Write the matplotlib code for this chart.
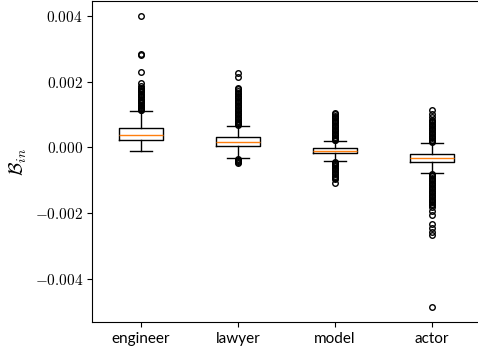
import matplotlib
matplotlib.use('Agg')
import matplotlib.pyplot as plt
from matplotlib.ticker import FuncFormatter

plt.rcParams['mathtext.fontset'] = 'cm'

# occupations on the x axis
categories = ['engineer', 'lawyer', 'model', 'actor']

# box statistics
q1 = [0.00023, 0.000046, -0.00018, -0.00044]
med = [0.00039, 0.00016, -0.00010, -0.00033]
q3 = [0.000605, 0.00031, -0.000025, -0.00021]
whis_lo = [-0.00010, -0.000314, -0.00041, -0.00077]
whis_hi = [0.00112, 0.000666, 0.000207, 0.000147]

# outliers (dense runs are where the circles merge into a black column)
fliers_engineer = [0.00402, 0.00285, 0.00283, 0.00231, 0.00196, 0.00188,
                   0.00182, 0.00179, 0.00175, 0.00171, 0.00168, 0.00164,
                   0.00160, 0.00156, 0.00153, 0.00149, 0.00145, 0.00141,
                   0.00138, 0.00134, 0.00130, 0.00127, 0.00123, 0.00120,
                   0.00117, 0.00115, 0.00113]
fliers_lawyer = [0.00227, 0.00214, 0.00181, 0.00177, 0.00172, 0.00167,
                 0.00163, 0.00158, 0.00154, 0.00150, 0.00146, 0.00142,
                 0.00138, 0.00134, 0.00130, 0.00126, 0.00122, 0.00118,
                 0.00114, 0.00110, 0.00106, 0.00102, 0.00098, 0.00094,
                 0.00090, 0.00086, 0.00082, 0.00078, 0.00075, 0.00072,
                 0.00069, -0.00035, -0.00038, -0.00041, -0.00045, -0.00049]
fliers_model = [0.00104, 0.00101, 0.00097, 0.00093, 0.00089, 0.00085,
                0.00081, 0.00077, 0.00073, 0.00069, 0.00065, 0.00061,
                0.00057, 0.00053, 0.00049, 0.00045, 0.00041, 0.00037,
                0.00033, 0.00030, 0.00027, 0.00024, 0.00022,
                -0.00044, -0.00047, -0.00050, -0.00054, -0.00058, -0.00062,
                -0.00066, -0.00070, -0.00074, -0.00078, -0.00082, -0.00086,
                -0.00089, -0.00092, -0.00096, -0.00109]
fliers_actor = [0.00114, 0.00102, 0.00092, 0.00084, 0.00080, 0.00076,
                0.00072, 0.00068, 0.00064, 0.00060, 0.00056, 0.00052,
                0.00048, 0.00044, 0.00040, 0.00036, 0.00032, 0.00028,
                0.00024, 0.00020, 0.00017,
                -0.00080, -0.00084, -0.00088, -0.00092, -0.00096, -0.00100,
                -0.00104, -0.00108, -0.00112, -0.00116, -0.00120, -0.00124,
                -0.00128, -0.00132, -0.00136, -0.00140, -0.00144, -0.00148,
                -0.00152, -0.00156, -0.00160, -0.00164, -0.00168, -0.00172,
                -0.00176, -0.00181, -0.00193, -0.00205, -0.00235, -0.00247,
                -0.00257, -0.00267, -0.00488]
fliers = [fliers_engineer, fliers_lawyer, fliers_model, fliers_actor]

stats = []
for i, name in enumerate(categories):
    stats.append({'label': name, 'q1': q1[i], 'med': med[i], 'q3': q3[i],
                  'whislo': whis_lo[i], 'whishi': whis_hi[i],
                  'fliers': fliers[i]})

fig = plt.figure(figsize=(4.78, 3.54), dpi=100)
# the original figure is cut off on the right, so the axes run past the edge
ax = fig.add_axes([0.1935, 0.0904, 0.8117, 0.9068])

ax.bxp(stats, widths=0.45,
       boxprops=dict(color='black', linewidth=1.0),
       whiskerprops=dict(color='black', linewidth=1.0),
       capprops=dict(color='black', linewidth=1.0),
       medianprops=dict(color='#ff7f0e', linewidth=1.0),
       flierprops=dict(marker='o', markerfacecolor='none',
                       markeredgecolor='black', markersize=4,
                       markeredgewidth=1.0))

ax.set_xlim(0.5, 4.5)
ax.spines['right'].set_visible(False)
ax.set_yticks([-0.004, -0.002, 0.0, 0.002, 0.004])
ax.yaxis.set_major_formatter(FuncFormatter(lambda v, p: f'${v:.3f}$'))
for lab in ax.get_yticklabels():
    lab.set_fontsize(11)
ax.set_xticks([1, 2, 3, 4])
ax.set_xticklabels(categories, fontfamily='Lato', fontsize=11)
ax.set_ylabel(r'$\mathcal{B}_{in}$', fontsize=14)

fig.savefig('out.png', dpi=100)
